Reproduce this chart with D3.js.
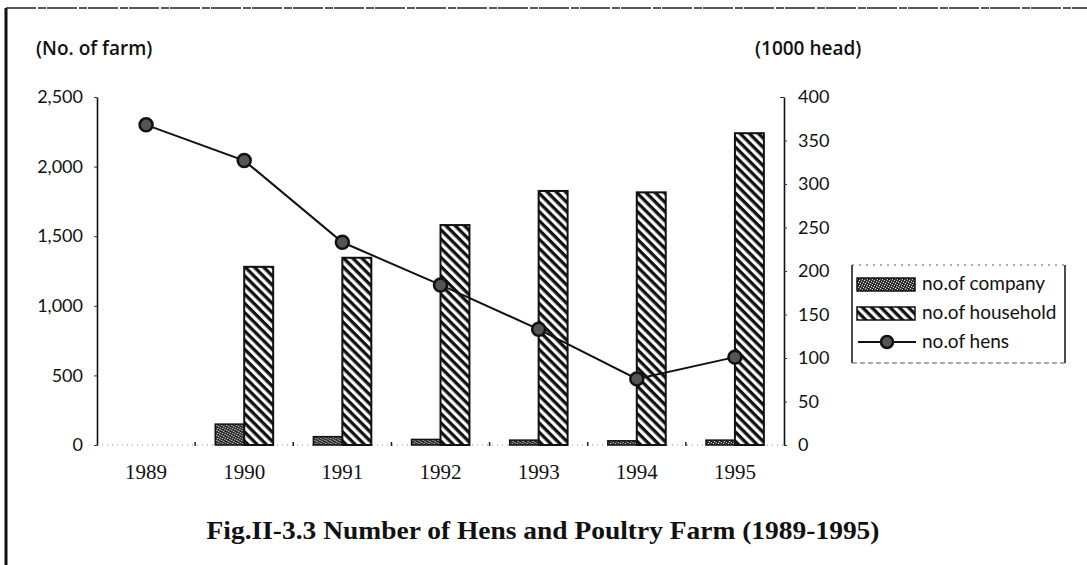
<!DOCTYPE html>
<html>
<head>
<meta charset="utf-8">
<script src="https://cdn.jsdelivr.net/npm/d3@7"></script>
<style>
  body { margin: 0; background: #fff; }
  .tickText { font-family: "Lato", "Open Sans", sans-serif; font-size: 18px; fill: #111; }
  .yearText { font-family: "Liberation Serif", serif; font-size: 21px; fill: #111; }
  .unitText { font-family: "Open Sans", "Lato", sans-serif; font-size: 19px; font-weight: 600; fill: #111; }
  .legendText { font-family: "Lato", "Open Sans", sans-serif; font-size: 19px; fill: #111; }
  .titleText { font-family: "Liberation Serif", serif; font-size: 25px; font-weight: 700; fill: #111; }
</style>
</head>
<body>
<div id="chart"></div>
<script>
// Data
const years = ["1989", "1990", "1991", "1992", "1993", "1994", "1995"];
const companyFarms = [0, 150, 60, 40, 35, 30, 35];
const householdFarms = [0, 1280, 1345, 1580, 1825, 1815, 2240];
const hens = [368, 327, 233, 184, 133, 76, 101];
const farmTicks = [0, 500, 1000, 1500, 2000, 2500];
const headTicks = [0, 50, 100, 150, 200, 250, 300, 350, 400];
const seriesNames = ["no.of company", "no.of household", "no.of hens"];

// SVG area
const svgWidth = 1087;
const svgHeight = 565;
const margin = { top: 97, right: 303, bottom: 120, left: 97 };
const width = svgWidth - margin.left - margin.right;
const height = svgHeight - margin.top - margin.bottom;

const svg = d3.select("#chart")
    .append("svg")
    .attr("width", svgWidth)
    .attr("height", svgHeight);

// fill patterns
const defs = svg.append("defs");
const hatch = defs.append("pattern")
    .attr("id", "hatch")
    .attr("patternUnits", "userSpaceOnUse")
    .attr("width", 6.5)
    .attr("height", 6.5)
    .attr("patternTransform", "rotate(45)");
hatch.append("rect").attr("width", 6.5).attr("height", 6.5).attr("fill", "#fff");
hatch.append("rect").attr("x", 0).attr("y", 0).attr("width", 6.5).attr("height", 3.3).attr("fill", "#111");

const stipple = defs.append("pattern")
    .attr("id", "stipple")
    .attr("patternUnits", "userSpaceOnUse")
    .attr("width", 5)
    .attr("height", 5);
stipple.append("rect").attr("width", 5).attr("height", 5).attr("fill", "#3a3a3a");
[[0, 0], [2, 1], [4, 2], [1, 3], [3, 4]].forEach(p => {
    stipple.append("rect").attr("x", p[0]).attr("y", p[1]).attr("width", 1).attr("height", 1).attr("fill", "#ddd");
});
[[1, 0], [3, 2], [0, 4]].forEach(p => {
    stipple.append("rect").attr("x", p[0]).attr("y", p[1]).attr("width", 1).attr("height", 1).attr("fill", "#000");
});

// page frame (scan border)
svg.append("line")
    .attr("x1", 6).attr("x2", 6).attr("y1", 8).attr("y2", svgHeight)
    .attr("stroke", "#111").attr("stroke-width", 3);
svg.append("line")
    .attr("x1", 6).attr("x2", svgWidth).attr("y1", 8).attr("y2", 8)
    .attr("stroke", "#222").attr("stroke-width", 1.5).attr("stroke-dasharray", "30 2 8 1");

const chartGroup = svg.append("g")
    .attr("transform", `translate(${margin.left}, ${margin.top})`);

// scales
const xScale = d3.scaleBand()
    .domain(years)
    .range([0, width])
    .paddingInner(0.41)
    .paddingOuter(0.205);

const xSub = d3.scaleBand()
    .domain(["company", "household"])
    .range([0, xScale.bandwidth()]);

const yFarm = d3.scaleLinear().domain([0, 2500]).range([height, 0]);
const yHead = d3.scaleLinear().domain([0, 400]).range([height, 0]);

// baseline (dotted) and category separators
chartGroup.append("line")
    .attr("x1", 0).attr("x2", width)
    .attr("y1", height).attr("y2", height)
    .attr("stroke", "#888").attr("stroke-width", 1).attr("stroke-dasharray", "1 4");

const step = xScale.step();
chartGroup.selectAll(".sep")
    .data(years.slice(1))
    .enter()
    .append("line")
    .attr("class", "sep")
    .attr("x1", d => xScale(d) - (step - xScale.bandwidth()) / 2)
    .attr("x2", d => xScale(d) - (step - xScale.bandwidth()) / 2)
    .attr("y1", height - 3).attr("y2", height + 1)
    .attr("stroke", "#222").attr("stroke-width", 1.5);

// axes
const leftAxis = d3.axisLeft(yFarm)
    .tickValues(farmTicks)
    .tickFormat(d3.format(","))
    .tickSize(3)
    .tickSizeOuter(0)
    .tickPadding(11);

const rightAxis = d3.axisRight(yHead)
    .tickValues(headTicks)
    .tickSize(3)
    .tickSizeOuter(0)
    .tickPadding(11);

const leftG = chartGroup.append("g").call(leftAxis);
const rightG = chartGroup.append("g")
    .attr("transform", `translate(${width}, 0)`)
    .call(rightAxis);

[leftG, rightG].forEach(g => {
    g.select(".domain").attr("stroke", "#111").attr("stroke-width", 1.6);
    g.selectAll(".tick line").attr("stroke", "#333");
    g.selectAll(".tick text").attr("class", "tickText").attr("font-size", null).attr("font-family", null);
    g.attr("font-size", null).attr("font-family", null);
});
rightG.select(".tick:last-of-type line").attr("x2", -4);

// year labels
chartGroup.selectAll(".yearText")
    .data(years)
    .enter()
    .append("text")
    .attr("class", "yearText")
    .attr("x", d => xScale(d) + xScale.bandwidth() / 2)
    .attr("y", height + 34)
    .attr("text-anchor", "middle")
    .text(d => d);

// bars
const barGroups = chartGroup.selectAll(".yearGroup")
    .data(years)
    .enter()
    .append("g")
    .attr("class", "yearGroup")
    .attr("transform", d => `translate(${xScale(d)}, 0)`);

barGroups.filter((d, i) => companyFarms[i] > 0)
    .append("rect")
    .attr("x", xSub("company"))
    .attr("y", d => yFarm(companyFarms[years.indexOf(d)]))
    .attr("width", xSub.bandwidth())
    .attr("height", d => height - yFarm(companyFarms[years.indexOf(d)]))
    .attr("fill", "url(#stipple)")
    .attr("stroke", "#111")
    .attr("stroke-width", 1.5);

barGroups.filter((d, i) => householdFarms[i] > 0)
    .append("rect")
    .attr("x", xSub("household"))
    .attr("y", d => yFarm(householdFarms[years.indexOf(d)]))
    .attr("width", xSub.bandwidth())
    .attr("height", d => height - yFarm(householdFarms[years.indexOf(d)]))
    .attr("fill", "url(#hatch)")
    .attr("stroke", "#111")
    .attr("stroke-width", 2);

// hens line
const hensLine = d3.line()
    .x((d, i) => xScale(years[i]) + xScale.bandwidth() / 2)
    .y(d => yHead(d));

chartGroup.append("path")
    .datum(hens)
    .attr("d", hensLine)
    .attr("fill", "none")
    .attr("stroke", "#111")
    .attr("stroke-width", 2);

chartGroup.selectAll(".henDot")
    .data(hens)
    .enter()
    .append("circle")
    .attr("class", "henDot")
    .attr("cx", (d, i) => xScale(years[i]) + xScale.bandwidth() / 2)
    .attr("cy", d => yHead(d))
    .attr("r", 6.5)
    .attr("fill", "#555")
    .attr("stroke", "#111")
    .attr("stroke-width", 2.5);

// unit labels
svg.append("text")
    .attr("class", "unitText")
    .attr("x", 36)
    .attr("y", 55)
    .text("(No. of farm)");

svg.append("text")
    .attr("class", "unitText")
    .attr("x", 755)
    .attr("y", 55)
    .text("(1000 head)");

// legend
const legend = svg.append("g").attr("transform", "translate(852, 265)");
const legW = 213, legH = 98;
legend.append("line").attr("x1", 0).attr("x2", 0).attr("y1", 0).attr("y2", legH)
    .attr("stroke", "#111").attr("stroke-width", 1.5);
legend.append("line").attr("x1", legW).attr("x2", legW).attr("y1", 0).attr("y2", legH)
    .attr("stroke", "#111").attr("stroke-width", 1.5);
legend.append("line").attr("x1", 0).attr("x2", legW).attr("y1", 0).attr("y2", 0)
    .attr("stroke", "#555").attr("stroke-width", 1).attr("stroke-dasharray", "2 5");
legend.append("line").attr("x1", 0).attr("x2", legW).attr("y1", legH).attr("y2", legH)
    .attr("stroke", "#555").attr("stroke-width", 1).attr("stroke-dasharray", "5 3");

const legendRows = legend.selectAll(".legRow")
    .data(seriesNames)
    .enter()
    .append("g")
    .attr("class", "legRow")
    .attr("transform", (d, i) => `translate(0, ${19 + i * 29})`);

legendRows.filter((d, i) => i < 2)
    .append("rect")
    .attr("x", 5)
    .attr("y", -6)
    .attr("width", 58)
    .attr("height", 13)
    .attr("fill", (d, i) => i === 0 ? "url(#stipple)" : "url(#hatch)")
    .attr("stroke", "#111")
    .attr("stroke-width", 1.5);

const hensRow = legendRows.filter((d, i) => i === 2);
hensRow.append("line")
    .attr("x1", 6).attr("x2", 64).attr("y1", 0).attr("y2", 0)
    .attr("stroke", "#111").attr("stroke-width", 2);
hensRow.append("circle")
    .attr("cx", 35).attr("cy", 0).attr("r", 6)
    .attr("fill", "#555").attr("stroke", "#111").attr("stroke-width", 2.5);

legendRows.append("text")
    .attr("class", "legendText")
    .attr("x", 70)
    .attr("y", 6)
    .text(d => d);

// title
svg.append("text")
    .attr("class", "titleText")
    .attr("x", 543)
    .attr("y", 539)
    .attr("text-anchor", "middle")
    .attr("textLength", 673)
    .attr("lengthAdjust", "spacingAndGlyphs")
    .text("Fig.II-3.3 Number of Hens and Poultry Farm (1989-1995)");
</script>
</body>
</html>
